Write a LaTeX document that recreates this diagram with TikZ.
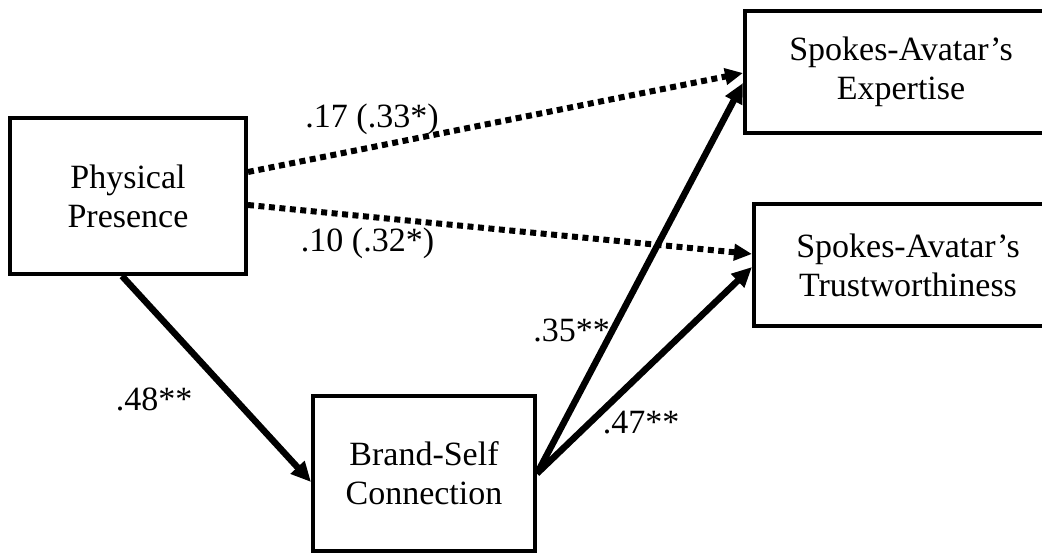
\documentclass[tikz,border=0pt]{standalone}
\usepackage{fontspec}
\setmainfont{Liberation Serif}
\usetikzlibrary{arrows.meta,calc}
\begin{document}
\begin{tikzpicture}[x=1pt,y=-1pt,
  box/.style={draw,line width=4pt,rectangle,align=center,inner sep=0pt,
    font=\fontsize{34}{39}\selectfont},
  solidarrow/.style={line width=6.5pt,-{Triangle[length=20pt,width=18pt]}},
  dotarrow/.style={line width=6pt,dash pattern=on 6pt off 4.5pt,-{Triangle[length=18pt,width=16pt]}},
  lbl/.style={inner sep=0pt,anchor=base,font=\fontsize{34}{39}\selectfont}]
\useasboundingbox (0,0) rectangle (1042,553);
\node[box,minimum width=236pt,minimum height=156pt] (pp) at (128,196) {Physical\\Presence};
\node[box,minimum width=222pt,minimum height=155pt] (bsc) at (424,473.5) {Brand-Self\\Connection};
\node[box,minimum width=312pt,minimum height=122pt] (exp) at (901,72) {Spokes-Avatar’s\\Expertise};
\node[box,minimum width=308pt,minimum height=122pt] (tru) at (908,265) {Spokes-Avatar’s\\Trustworthiness};
\draw[dotarrow] ($(pp.east)+(0,-24)$) -- ($(exp.west)+(0,1)$);
\draw[dotarrow] ($(pp.east)+(0,9)$) -- ($(tru.west)+(0,-11)$);
\draw[solidarrow] ($(pp.south)+(-6,0)$) -- ($(bsc.west)+(0,8.5)$);
\draw[solidarrow] (bsc.east) -- ($(exp.west)+(0,11)$);
\draw[solidarrow] (bsc.east) -- ($(tru.west)+(0,2)$);
\node[lbl] (l1) at (372,128) {.17 (.33*)};
\node[lbl] (l2) at (367.5,252) {.10 (.32*)};
\node[lbl] (l3) at (154,410) {.48**};
\node[lbl] (l4) at (571.5,342) {.35**};
\node[lbl] (l5) at (641,433) {.47**};
\end{tikzpicture}
\end{document}
